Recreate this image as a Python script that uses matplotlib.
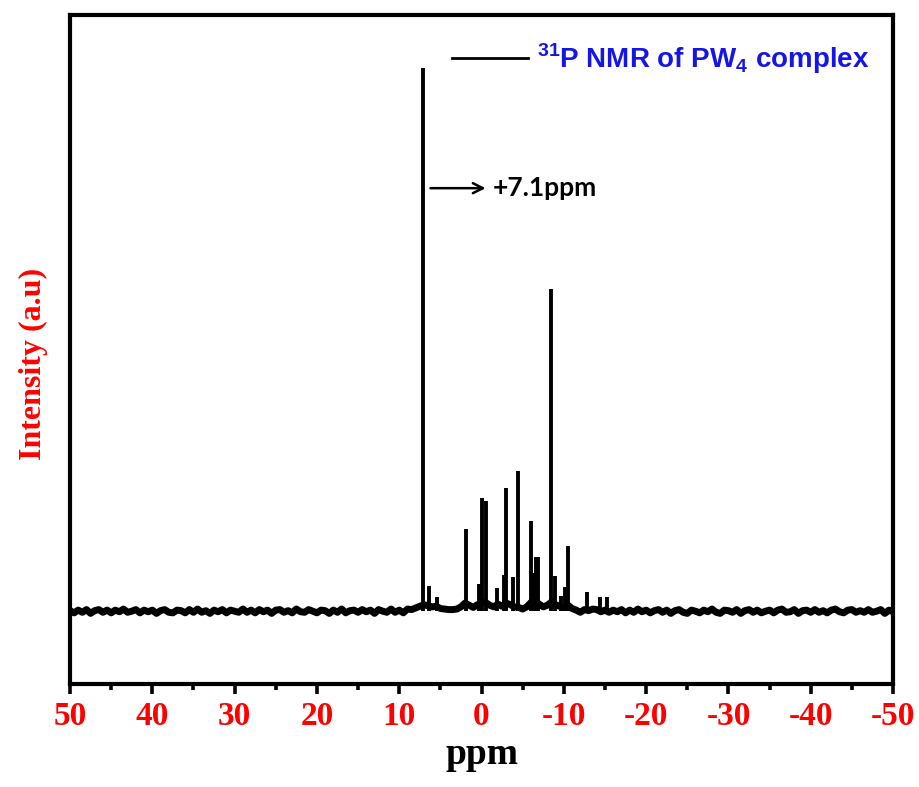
import numpy as np
import matplotlib
matplotlib.use("Agg")
import matplotlib.pyplot as plt
from matplotlib.ticker import MultipleLocator

# 31P NMR peaks: chemical shift (ppm) and height (relative to the +7.1 ppm peak)
peak_ppm = [7.1, 6.35, 5.47, 1.9, 0.28, 0.0, -0.6, -1.86, -2.76, -3.0, -3.77,
            -4.46, -6.0, -6.28, -6.6, -6.84, -8.5, -8.87, -9.6, -10.2, -10.49,
            -12.84, -14.4, -15.3]
peak_height = [1.0, 0.046, 0.026, 0.151, 0.05, 0.209, 0.203, 0.042, 0.066, 0.227,
               0.063, 0.258, 0.166, 0.07, 0.1, 0.099, 0.593, 0.064, 0.028, 0.045,
               0.12, 0.035, 0.026, 0.027]

# baseline read every 0.5 ppm from +50 to -50 (thousandths of the main peak)
baseline_milli = [
    1, -3, 2, -2, 3, -4, 1, 3, -2, 2,
    -3, 2, -1, 4, -2, 0, 3, -3, 2, -1,
    2, -4, 1, 3, -2, -3, 2, 1, -3, 3,
    -2, 4, -2, 1, -4, 2, -1, 3, -3, 2,
    0, -2, 4, -2, 2, -3, 3, -1, 2, -4,
    2, 3, -2, 1, -3, 4, -1, -2, 3, 0,
    -3, 2, 1, -4, 2, -2, 4, -3, 1, 2,
    -2, 3, -1, 2, -4, 3, 0, -2, 4, -2,
    2, -3, 4, 3,
    6, 9, 12, 10, 8, 9, 5, 4, 3, 3,
    4, 8, 15, 11, 7, 12, 15, 16, 11, 8,
    13, 9, 15, 12, 8, 7, 4, 8, 16, 19,
    13, 8, 11, 17, 12, 9, 7, 11, 5,
    2, -2, 3, 1, 4, 3, -1, 2, -2, 2,
    -1, 3, -3, 2, -2, 4, -1, 2, -3, 1,
    3, -2, 2, -4, 1, 3, -2, -4, 2, 0,
    -3, 2, -1, 4, -2, -4, 2, 1, -2, 3,
    -4, 1, 3, -2, 2, -3, 0, 2, -3, 2,
    4, -2, -1, 3, -4, 1, 2, -2, 3, -2,
    1, -3, 2, 4, -1, -3, 2, 3, -2, 1,
    -2, 3, -2, 0, 3, -4, 2, -1,
]
baseline_ppm = np.linspace(50, -50, len(baseline_milli))
baseline = np.array(baseline_milli) / 1000.0

x_ticks = [50, 40, 30, 20, 10, 0, -10, -20, -30, -40, -50]

plt.rcParams["axes.unicode_minus"] = False
plt.rcParams["mathtext.fontset"] = "custom"
plt.rcParams["mathtext.bf"] = "Liberation Sans:bold"
plt.rcParams["mathtext.rm"] = "Liberation Sans:bold"

fig = plt.figure(figsize=(9.2, 7.87), dpi=100)
ax = fig.add_axes([0.0761, 0.1309, 0.8946, 0.8501])

line, = ax.plot(baseline_ppm, baseline, color="black", lw=5.0,
                label=r"$^{31}$P NMR of PW$_{4}$ complex")
ax.vlines(peak_ppm, 0, peak_height, color="black", lw=2.8)

ax.set_xlim(50, -50)
ax.set_ylim(-0.134, 1.098)
ax.set_xticks(x_ticks)
ax.xaxis.set_minor_locator(MultipleLocator(5))
ax.set_yticks([])

for s in ax.spines.values():
    s.set_linewidth(3.0)

ax.tick_params(axis="x", which="major", direction="out", length=7, width=2.6,
               pad=5.5, labelsize=24, labelcolor="red")
ax.tick_params(axis="x", which="minor", direction="out", length=4, width=2.6)
for lab in ax.get_xticklabels():
    lab.set_fontfamily("Liberation Serif")
    lab.set_fontweight("bold")

ax.set_xlabel("ppm", fontsize=27, fontweight="bold", family="Liberation Serif")
ax.xaxis.set_label_coords(0.5, -0.079)
ax.set_ylabel("Intensity (a.u)", fontsize=23, fontweight="bold",
              family="Liberation Serif", color="red")
ax.yaxis.set_label_coords(-0.027, 0.478)

ax.annotate("", xy=(-0.5, 0.779), xytext=(6.2, 0.779),
            arrowprops=dict(arrowstyle="->", color="black", lw=1.8,
                            mutation_scale=18, shrinkA=0, shrinkB=0))
ax.text(-1.4, 0.779, "+7.1ppm", ha="left", va="center", fontsize=19,
        fontweight="bold", family="Lato")

leg = ax.legend(handles=[line], loc="center left", bbox_to_anchor=(0.464, 0.935),
                frameon=False, fontsize=20, handlelength=2.75, handletextpad=0.3,
                borderpad=0, borderaxespad=0)
for t in leg.get_texts():
    t.set_color("#1515e6")
    t.set_fontweight("bold")
    t.set_fontfamily("Liberation Sans")
leg.get_lines()[0].set_linewidth(2.0)

fig.savefig("out.png", dpi=100)
